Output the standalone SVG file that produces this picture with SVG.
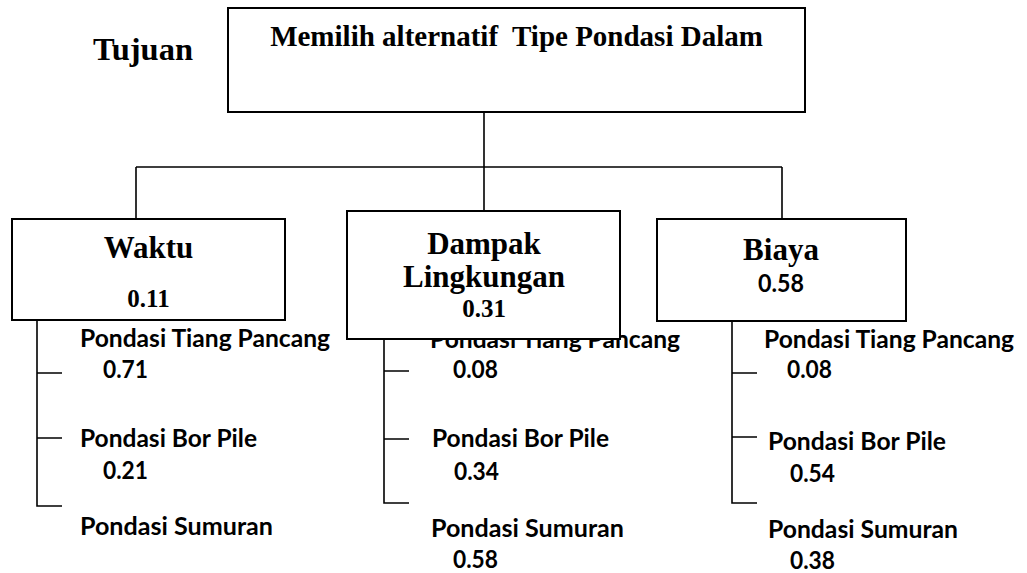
<svg xmlns="http://www.w3.org/2000/svg" width="1027" height="573" viewBox="0 0 1027 573">
<style>
.box{fill:#fff;stroke:#000;stroke-width:2}
.ln{stroke:#000;stroke-width:1.6;fill:none}
.t{font-family:"Liberation Serif","Times New Roman",serif;font-weight:bold;fill:#000}
.c{font-family:Lato,"Liberation Sans",sans-serif;font-weight:bold;fill:#000;font-size:25px}
</style>
<rect width="1027" height="573" fill="#fff"/>
<text class="t" x="93" y="60" font-size="31" textLength="100" lengthAdjust="spacingAndGlyphs">Tujuan</text>
<g id="connectors">
<path class="ln" d="M484 112V211M136 167H782M136 167V219M782 167V219"/>
<path class="ln" d="M37 320V506H62M37 373H62M37 438H62"/>
<path class="ln" d="M384 339V503H409M384 371H409M384 439H409"/>
<path class="ln" d="M732 321V503H757M732 373H757M732 437H757"/>
</g>
<g id="alt-waktu">
<text class="c" x="80" y="347" textLength="250" lengthAdjust="spacingAndGlyphs">Pondasi Tiang Pancang</text>
<text class="c" x="103" y="378" textLength="45" lengthAdjust="spacingAndGlyphs">0.71</text>
<text class="c" x="80" y="447" textLength="177" lengthAdjust="spacingAndGlyphs">Pondasi Bor Pile</text>
<text class="c" x="103" y="479" textLength="45" lengthAdjust="spacingAndGlyphs">0.21</text>
<text class="c" x="80" y="535" textLength="193" lengthAdjust="spacingAndGlyphs">Pondasi Sumuran</text>
</g>
<g id="alt-dampak">
<text class="c" x="430" y="348" textLength="250" lengthAdjust="spacingAndGlyphs">Pondasi Tiang Pancang</text>
<text class="c" x="453" y="378" textLength="45" lengthAdjust="spacingAndGlyphs">0.08</text>
<text class="c" x="432" y="447" textLength="177" lengthAdjust="spacingAndGlyphs">Pondasi Bor Pile</text>
<text class="c" x="454" y="480" textLength="45" lengthAdjust="spacingAndGlyphs">0.34</text>
<text class="c" x="431" y="537" textLength="193" lengthAdjust="spacingAndGlyphs">Pondasi Sumuran</text>
<text class="c" x="453" y="568" textLength="45" lengthAdjust="spacingAndGlyphs">0.58</text>
</g>
<g id="alt-biaya">
<text class="c" x="764" y="348" textLength="250" lengthAdjust="spacingAndGlyphs">Pondasi Tiang Pancang</text>
<text class="c" x="787" y="378" textLength="45" lengthAdjust="spacingAndGlyphs">0.08</text>
<text class="c" x="768" y="450" textLength="178" lengthAdjust="spacingAndGlyphs">Pondasi Bor Pile</text>
<text class="c" x="790" y="482" textLength="45" lengthAdjust="spacingAndGlyphs">0.54</text>
<text class="c" x="768" y="538" textLength="190" lengthAdjust="spacingAndGlyphs">Pondasi Sumuran</text>
<text class="c" x="790" y="569" textLength="45" lengthAdjust="spacingAndGlyphs">0.38</text>
</g>
<g id="goal">
<rect class="box" x="228" y="8" width="577" height="104"/>
<text class="t" x="516.5" y="46" font-size="29" text-anchor="middle" xml:space="preserve" style="white-space:pre">Memilih alternatif  Tipe Pondasi Dalam</text>
</g>
<g id="waktu">
<rect class="box" x="12" y="219" width="273" height="101"/>
<text class="t" x="148.5" y="258" font-size="31" text-anchor="middle">Waktu</text>
<text class="t" x="148.5" y="307" font-size="25" text-anchor="middle">0.11</text>
</g>
<g id="dampak">
<rect class="box" x="347" y="211" width="273" height="128"/>
<text class="t" x="484" y="254" font-size="31" text-anchor="middle">Dampak</text>
<text class="t" x="484" y="287" font-size="31" text-anchor="middle">Lingkungan</text>
<text class="t" x="484" y="317" font-size="25" text-anchor="middle">0.31</text>
</g>
<g id="biaya">
<rect class="box" x="657" y="219" width="249" height="102"/>
<text class="t" x="781" y="260" font-size="31" text-anchor="middle">Biaya</text>
<text class="c" x="781" y="292" text-anchor="middle" textLength="46" lengthAdjust="spacingAndGlyphs">0.58</text>
</g>
</svg>
